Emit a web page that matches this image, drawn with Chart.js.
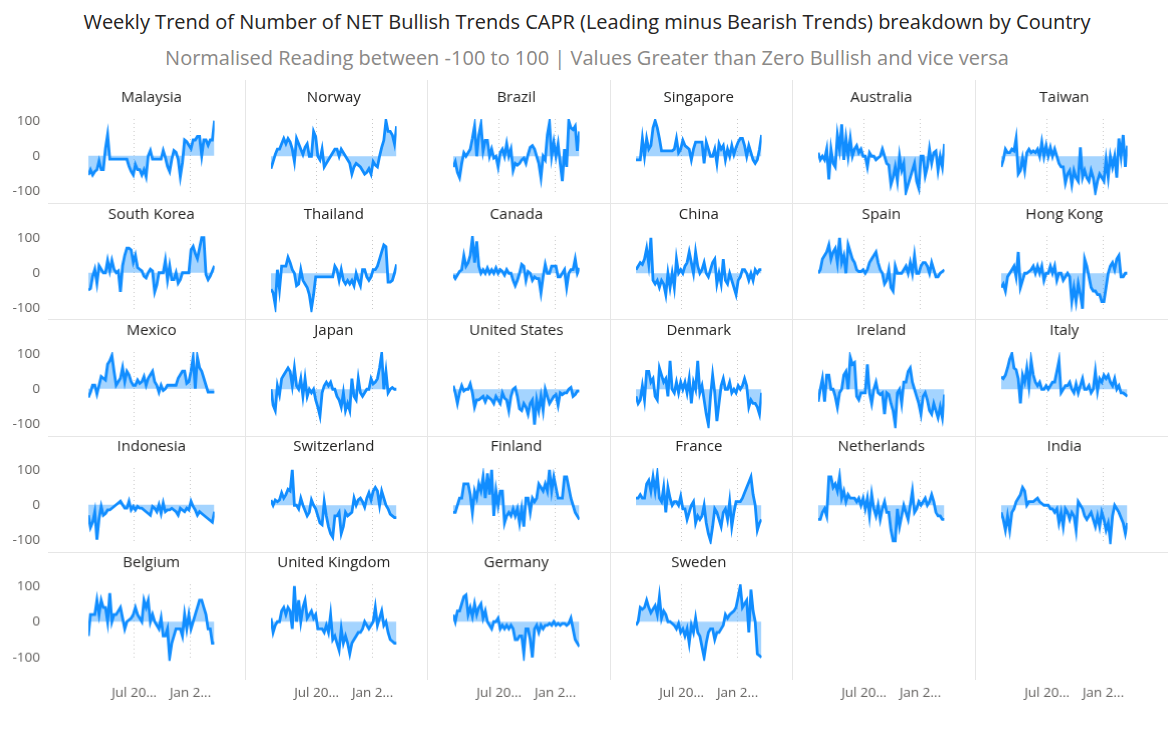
<!DOCTYPE html>
<html>
<head>
<meta charset="utf-8">
<script src="https://cdn.jsdelivr.net/npm/chart.js@4.4.1/dist/chart.umd.min.js"></script>
<style>
  body { margin: 0; background: #fff; font-family: 'Open Sans', sans-serif; }
  #page { position: relative; width: 1174px; height: 730px; overflow: hidden; }
  .hdr { position: absolute; left: 0; width: 1174px; text-align: center; white-space: nowrap; line-height: 28px; }
  #title { top: 8px; font-size: 20px; color: #252423; }
  #subtitle { top: 44px; font-size: 20px; color: #8a8886; }
  .cell { position: absolute; }
  .sep { position: absolute; background: #e6e6e6; }
</style>
</head>
<body>
<div id="page">
  <div id="title" class="hdr">Weekly Trend of Number of NET Bullish Trends CAPR (Leading minus Bearish Trends) breakdown by Country</div>
  <div id="subtitle" class="hdr">Normalised Reading between -100 to 100 | Values Greater than Zero Bullish and vice versa</div>
</div>
<script>
// weekly readings, Feb 2023 -> Mar 2024
const malaysia = [-55,-40,-55,-45,-40,-15,-40,-40,20,60, -10,-10,-10,-10,-10,-10,-10,-10,-10,-30, -45,-55,-25,-40,-40,-55,-40,-60,0,15, -10,-10,-10,-10,-10,15,-5,-30,-45,-10, 15,10,-10,-60,-20,45,40,30,20,45, 45,55,55,0,45,45,30,45,45,100];
const norway = [-35,-15,5,20,20,35,50,35,50,40, 20,-15,50,35,20,5,25,35,0,0, 70,55,0,-10,20,-30,-20,-10,0,10, 20,20,0,20,10,0,-10,-20,-50,-30, -20,-25,-30,-40,-50,-45,-35,-50,-15,-25, -30,0,25,45,100,70,70,60,35,85];
const brazil = [-30,-15,-45,-60,-20,10,0,10,20,50, 85,0,60,90,15,45,45,0,20,-5, 0,-30,10,20,0,35,0,20,-40,-20, -25,-20,-10,-5,-20,5,25,30,20,0, -20,-60,0,-10,60,95,0,40,0,35, -20,-70,20,-30,100,80,75,85,15,70];
const singapore = [-10,-10,-10,50,0,50,20,30,80,100, 80,50,15,15,15,15,15,15,20,50, 10,20,45,30,25,20,-10,20,40,40, 40,40,-20,40,20,0,0,20,-20,35, 20,30,-10,20,0,30,5,25,40,50, 50,30,0,30,10,-10,-20,-10,20,60];
const australia = [10,-10,0,-10,20,-65,20,-20,-30,60, 20,90,-10,50,0,50,0,20,30,10, 20,0,0,-30,10,0,0,-10,-5,0, 20,0,-20,-25,-80,-60,-30,-70,0,-40, -20,-100,-80,-60,-40,-20,-70,-90,0,0, -55,-30,20,-20,10,15,-40,0,-30,35];
const taiwan = [-30,-10,20,10,10,20,15,50,-50,-40, -5,-40,10,20,10,15,10,20,0,40, 0,30,0,25,0,20,0,-20,-30,-30, -75,-50,-40,-80,-40,-60,-70,25,-60,-40, -60,-70,-40,-60,-100,-70,-50,-60,-70,-10, -60,0,-30,0,-60,50,0,60,-30,30];
const southKorea = [-50,-45,-10,10,-30,20,10,0,0,35, 5,35,10,0,5,-55,20,50,70,70, 65,30,50,15,10,5,-10,-15,0,10, 5,-55,-35,0,0,0,35,-20,20,-20, -20,0,-30,-20,0,0,0,0,65,75, 55,40,70,100,100,-5,-20,-10,5,20];
const thailand = [-45,-55,-90,10,-45,20,20,20,45,30, 10,0,-35,-30,10,-20,-30,-40,-60,-100, -60,-10,-10,-10,-10,-10,-10,-10,-10,-10, 20,10,-20,10,-20,-30,-20,-30,-20,-35, 0,-20,-35,10,10,-10,-20,-10,10,10, 20,40,60,80,75,-25,-25,-20,0,25];
const canada = [-5,-15,-5,5,10,50,20,30,50,100, 30,90,20,0,10,0,15,0,10,0, 15,0,10,5,-5,10,0,0,-20,-35, -20,0,25,20,-20,5,0,-20,-10,-15, -15,-55,-10,25,0,0,20,20,20,-10, -10,0,10,-40,0,10,10,40,0,15];
const china = [10,20,30,25,40,70,25,100,-20,-30, -20,-40,-20,-30,-60,0,-40,0,-40,40, 0,10,0,20,30,60,30,0,60,20, 0,10,30,0,-10,10,30,40,-30,0, -30,40,-20,-30,0,-20,-40,-60,-20,-10, 10,10,0,-20,0,-20,10,0,10,10];
const spain = [0,10,40,50,60,80,40,60,70,30, 100,30,50,0,80,60,40,30,10,5, 5,10,0,10,30,40,50,60,30,10, 0,-30,-20,10,-40,-50,20,0,0,0, 10,20,0,30,0,50,0,0,20,30, 30,20,0,30,10,-10,-10,0,5,10];
const hongKong = [-40,-30,-50,-10,0,10,20,-10,60,-40, -20,0,0,5,10,20,0,20,0,20, -20,0,0,20,0,20,-20,0,0,-20, -10,0,-10,-80,-40,-80,-30,-60,-100,40, 20,-10,-40,-50,-50,-60,-60,-80,-80,-40, 0,20,30,10,40,50,-10,-10,0,0];
const mexico = [-25,-10,10,10,-15,10,35,30,25,70, 80,95,50,10,20,30,60,20,50,40, 20,10,10,25,15,20,35,10,30,40, 50,20,10,-10,10,-5,0,10,10,10, 10,10,30,40,50,50,15,20,50,90, 0,90,60,50,30,10,-10,-10,-10,-10];
const japan = [0,-45,-60,10,-15,30,40,50,60,50, 10,60,10,0,30,-20,30,-20,0,-10, 0,-30,-50,-75,-10,10,20,10,20,0, 0,-20,-30,-50,-10,-60,-40,-60,30,-20, -30,30,-10,-20,-10,0,0,30,15,20, 30,60,100,0,50,-10,0,5,0,0];
const unitedStates = [10,-10,-40,-10,10,-5,0,0,15,-10, -50,-30,-30,-25,-20,-35,-20,-25,-30,-40, -20,-30,-40,-10,-25,-30,-60,-20,0,5, -20,-55,-60,-40,-50,-70,-40,-30,-100,-30, -60,-20,-60,0,-20,-40,-30,-20,-15,-45, -10,-15,-10,-10,0,5,-20,-15,-5,-5];
const denmark = [-20,-40,-30,10,-30,50,50,20,30,-20, -30,60,40,20,30,-20,80,0,-10,20, -10,20,0,20,-10,30,-40,20,0,80, -10,10,-30,-70,-100,-20,40,-10,-90,-40, 10,30,0,0,20,-10,0,-10,10,0, 10,30,10,-50,-30,-40,-40,-50,-70,-10];
const ireland = [-35,0,30,-35,40,40,0,0,-20,-50, -10,0,40,50,0,90,70,75,-20,-30, -10,-10,-10,70,-10,-40,0,20,-10,-15, -10,-70,-10,-15,-40,-60,-100,-10,0,-40, 20,20,50,60,20,0,-20,-40,-70,-20, -10,-30,-60,-70,-40,-60,-80,-50,-80,-15];
const italy = [35,30,40,60,85,100,60,55,30,-40, 40,20,60,10,80,40,20,10,20,0, 0,10,0,10,20,20,50,80,-10,0, 10,10,20,0,-10,15,-10,10,30,0, 0,10,-10,0,50,-5,30,20,40,30, 40,20,10,30,0,10,-10,-10,-15,-20];
const indonesia = [-30,-65,-50,-20,-100,-40,-5,-30,-25,-15, -15,-10,-5,0,5,10,0,-10,-10,10, -15,-5,-15,-5,-10,-10,-15,-20,-25,-30, -5,-10,-20,0,-25,5,-20,-15,-15,-10, -15,-20,-30,-10,-15,-20,-10,-15,10,-5, -15,-30,-20,-25,-30,-35,-40,-45,-50,-20];
const switzerland = [15,0,15,10,15,35,20,30,45,40, 100,0,0,-10,20,0,-15,-30,-20,15, 0,-10,-30,-50,-55,10,-30,-60,-80,-90, -30,-30,-20,-80,-60,-20,-30,-25,-20,20, 0,15,20,10,-5,20,35,15,40,50, 40,0,40,20,0,-10,-25,-30,-35,-35];
const finland = [-20,-20,0,20,20,60,60,60,30,-20, 40,20,60,40,80,20,90,30,100,-30, 40,0,40,40,-50,-30,-20,-30,-10,-30, -10,-50,-10,-60,20,20,-20,20,10,20, 60,50,40,60,40,100,40,80,50,20, 20,20,80,80,50,20,0,-20,-30,-40];
const france = [20,20,30,20,20,60,70,40,80,40, 85,20,10,50,-20,50,20,0,10,10, 0,25,-10,-10,-40,-20,0,10,-50,-30, -40,-30,0,-50,-80,-100,-60,-10,-20,-40, -60,-20,-10,-40,10,-60,-20,10,10,10, 20,35,50,65,80,30,0,-70,-50,-40];
const netherlands = [-40,-40,-20,-10,-30,80,80,50,60,40, 80,20,40,10,30,20,20,20,10,20, 0,20,-10,20,-30,30,-10,-30,0,-40, -10,10,-20,-20,-70,-100,-100,-10,-60,-30, 0,-20,-40,0,40,-20,-10,10,0,10, 20,0,10,30,10,-20,-30,-30,-40,-40];
const india = [-20,-40,-70,-30,-70,-20,-10,10,20,30, 50,40,0,10,10,10,15,20,10,5, 0,0,0,-10,-10,-20,-10,-50,-20,-60, -10,-20,-40,-20,-30,-70,10,0,-10,-30, -40,-30,-20,-40,-60,-30,-60,-20,-40,-70, -50,-100,-30,0,-10,-20,-35,-50,-80,-50];
const belgium = [-40,20,20,20,60,20,60,40,40,0, 80,0,20,20,30,40,10,-20,0,5, 10,20,40,20,10,0,60,40,60,0, 20,0,-10,-20,10,-40,-40,-20,-100,-60, -40,-20,-20,-20,-40,20,-20,20,-20,0, 20,40,60,60,40,20,-20,-20,-60,-60];
const unitedKingdom = [10,-30,-10,0,0,30,40,20,40,30, -20,100,0,60,0,40,60,10,20,30, 10,20,-20,-20,-20,-30,-10,-30,20,-50, -40,-60,-80,-20,-60,-40,-60,-90,-60,-50, -40,-30,-30,-20,0,-10,-20,-10,0,40, -10,10,30,-10,0,-30,-50,-55,-60,-60];
const germany = [20,0,30,30,50,70,75,20,40,15, 50,20,40,50,10,30,0,-10,-20,0, 0,10,-20,-10,-20,-10,-20,-10,-20,-50, -50,-40,-40,-90,-20,-20,-50,-100,-20,-10, -30,-10,-20,-10,-10,-5,-10,0,-10,-5, -10,-5,-5,-10,-5,10,-20,-50,-60,-70];
const sweden = [-10,0,40,35,40,60,40,25,35,45, 20,70,10,30,20,0,0,-5,-10,-20, -5,-30,-20,-40,-20,-60,-10,-30,10,-30, -40,-70,-100,-60,-30,-20,-20,-50,-30,-30, -20,-10,20,10,20,25,30,40,70,100, 40,50,60,-30,90,30,0,-90,-95,-100];

const countries = ['Malaysia','Norway','Brazil','Singapore','Australia','Taiwan',
  'South Korea','Thailand','Canada','China','Spain','Hong Kong',
  'Mexico','Japan','United States','Denmark','Ireland','Italy',
  'Indonesia','Switzerland','Finland','France','Netherlands','India',
  'Belgium','United Kingdom','Germany','Sweden'];
const countrySeries = [malaysia, norway, brazil, singapore, australia, taiwan,
  southKorea, thailand, canada, china, spain, hongKong,
  mexico, japan, unitedStates, denmark, ireland, italy,
  indonesia, switzerland, finland, france, netherlands, india,
  belgium, unitedKingdom, germany, sweden];

const DAY = 86400000;
const firstWeek = Date.UTC(2023, 1, 1);
const weekDates = countrySeries[0].map((_, i) => firstWeek + i * 7 * DAY);
const xTickDates = [Date.UTC(2023, 6, 1), Date.UTC(2024, 0, 1)];
const xTickLabels = ['Jul 20...', 'Jan 2...'];
const yTickValues = [-100, 0, 100];

const FONT = "'Open Sans', sans-serif";
const page = document.getElementById('page');

// grid geometry (px)
const colW = 182.6, firstCol = 62, rowH = 116.3;
const plotTop0 = 119.2, plotH = 76.3, titleH = 30;

function addSep(x, y, w, h) {
  const d = document.createElement('div');
  d.className = 'sep';
  Object.assign(d.style, { left: x + 'px', top: y + 'px', width: w + 'px', height: h + 'px' });
  page.appendChild(d);
}
for (let k = 1; k < 6; k++) addSep(Math.round(firstCol + colW * k), 80, 1, 600);
for (let k = 0; k < 4; k++) addSep(48, Math.round(203 + rowH * k), 1120, 1);

function makePanel(r, c, name, values) {
  const bottom = r === 4;
  const axisH = bottom ? 50 : 10;
  const plotTop = plotTop0 + rowH * r;
  const left = c === 0 ? 0 : firstCol + colW * c;
  const width = c === 0 ? firstCol + colW : colW;

  const box = document.createElement('div');
  box.className = 'cell';
  Object.assign(box.style, {
    left: left + 'px', top: (plotTop - titleH) + 'px',
    width: width + 'px', height: (titleH + plotH + axisH) + 'px'
  });
  const canvas = document.createElement('canvas');
  box.appendChild(canvas);
  page.appendChild(box);

  const datasets = values ? [{
    data: weekDates.map((d, i) => ({ x: d, y: values[i] })),
    borderColor: '#118DFF',
    borderWidth: 2.8,
    backgroundColor: 'rgba(17, 141, 255, 0.38)',
    fill: 'origin',
    pointRadius: 0,
    tension: 0
  }] : [];

  new Chart(canvas.getContext('2d'), {
    type: 'line',
    data: { datasets: datasets },
    options: {
      responsive: true,
      maintainAspectRatio: false,
      animation: false,
      layout: { padding: { left: c === 0 ? 0 : 26, right: 31, top: 0, bottom: 0 } },
      plugins: {
        legend: { display: false },
        tooltip: { enabled: false },
        title: {
          display: true,
          fullSize: false,
          text: name || '',
          color: '#252423',
          font: { family: FONT, size: 15, weight: 'normal' },
          padding: { top: 0, bottom: 12 }
        }
      },
      scales: {
        x: {
          type: 'linear',
          min: weekDates[0],
          max: weekDates[weekDates.length - 1],
          afterBuildTicks: s => { s.ticks = xTickDates.map(v => ({ value: v })); },
          afterFit: s => { s.height = axisH; },
          grid: {
            display: !!values, drawTicks: true, tickLength: 24,
            tickColor: 'rgba(0,0,0,0)', color: '#c8c8c8', lineWidth: 1
          },
          border: { display: false, dash: [1, 3] },
          ticks: {
            display: bottom,
            padding: 0,
            maxRotation: 0,
            autoSkip: false,
            color: '#605E5C',
            font: { family: FONT, size: 13.5 },
            callback: (v, i) => xTickLabels[i]
          }
        },
        y: {
          display: c === 0,
          min: -110,
          max: 105,
          afterBuildTicks: s => { s.ticks = yTickValues.map(v => ({ value: v })); },
          afterFit: s => { if (c === 0) s.width = 88; },
          grid: { display: false, drawTicks: true, tickLength: 45 },
          border: { display: false },
          ticks: {
            padding: 3,
            color: '#605E5C',
            font: { family: FONT, size: 13.5 }
          }
        }
      }
    }
  });
}

for (let k = 0; k < 30; k++) {
  const r = Math.floor(k / 6), c = k % 6;
  makePanel(r, c, countries[k], countrySeries[k]);
}
</script>
</body>
</html>
